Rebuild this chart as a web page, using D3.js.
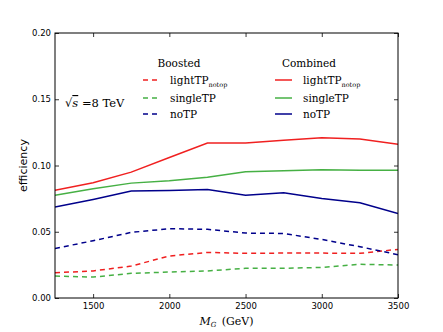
<!DOCTYPE html>
<html>
<head>
<meta charset="utf-8">
<script src="https://cdn.jsdelivr.net/npm/d3@7"></script>
<style>
  body { margin: 0; background: #fff; }
  svg { display: block; }
  .tick text { font-family: "DejaVu Sans", sans-serif; font-size: 8.5px; fill: #000; }
  .serif, .serif tspan { font-family: "DejaVu Serif", "Liberation Serif", serif; fill: #000; }
</style>
</head>
<body>
<div id="chart"></div>
<script>
// masses (GeV)
var masses = [1250, 1500, 1750, 2000, 2250, 2500, 2750, 3000, 3250, 3500];

// Combined (solid)
var combLight  = [0.0814, 0.0870, 0.0950, 0.1060, 0.1170, 0.1170, 0.1190, 0.1210, 0.1200, 0.1160];
var combSingle = [0.0776, 0.0824, 0.0867, 0.0884, 0.0912, 0.0952, 0.0960, 0.0967, 0.0965, 0.0965];
var combNo     = [0.0686, 0.0744, 0.0807, 0.0812, 0.0819, 0.0776, 0.0794, 0.0751, 0.0719, 0.0638];

// Boosted (dashed)
var boostLight  = [0.0191, 0.0204, 0.0241, 0.0317, 0.0344, 0.0337, 0.0339, 0.0339, 0.0337, 0.0367];
var boostSingle = [0.0166, 0.0158, 0.0186, 0.0196, 0.0204, 0.0224, 0.0224, 0.0231, 0.0254, 0.0249];
var boostNo     = [0.0374, 0.0432, 0.0495, 0.0523, 0.0518, 0.0490, 0.0487, 0.0442, 0.0387, 0.0327];

var xTicks = [1500, 2000, 2500, 3000, 3500];
var yTicks = [0, 0.05, 0.10, 0.15, 0.20];

var red = '#f02020', green = '#46b044', blue = '#00008b';

var series = [
  {v: boostLight,  c: red,   dash: true},
  {v: boostSingle, c: green, dash: true},
  {v: boostNo,     c: blue,  dash: true},
  {v: combLight,   c: red,   dash: false},
  {v: combSingle,  c: green, dash: false},
  {v: combNo,      c: blue,  dash: false}
];

var W = 443, H = 332;
var m = {left: 55, right: 45, top: 33, bottom: 34};
var w = W - m.left - m.right, h = H - m.top - m.bottom;

var svg = d3.select('#chart').append('svg')
    .attr('width', W)
    .attr('height', H);

var g = svg.append('g').attr('transform', 'translate(' + m.left + ',' + m.top + ')');

var x = d3.scaleLinear().domain([1250, 3500]).range([0, w]);
var y = d3.scaleLinear().domain([0, 0.20]).range([h, 0]);

var line = d3.line()
    .x(function(d, i) { return x(masses[i]); })
    .y(function(d) { return y(d); });

g.append('clipPath').attr('id', 'clip')
  .append('rect').attr('width', w).attr('height', h);

series.forEach(function(s) {
  g.append('path')
    .attr('clip-path', 'url(#clip)')
    .attr('d', line(s.v))
    .attr('fill', 'none')
    .attr('stroke', s.c)
    .attr('stroke-width', 1.5)
    .attr('stroke-dasharray', s.dash ? '5,4' : null);
});

// axes, ticks inward on all sides
function styleAxis(sel) {
  sel.select('.domain').remove();
  sel.selectAll('.tick line').attr('stroke', '#000').attr('stroke-width', 0.8);
}
g.append('g').attr('transform', 'translate(0,' + h + ')')
  .call(d3.axisBottom(x).tickValues(xTicks).tickSizeInner(-4).tickPadding(5).tickFormat(d3.format('d')))
  .call(styleAxis);
g.append('g')
  .call(d3.axisTop(x).tickValues(xTicks).tickSizeInner(-4).tickFormat(''))
  .call(styleAxis);
g.append('g')
  .call(d3.axisLeft(y).tickValues(yTicks).tickSizeInner(-4).tickPadding(4).tickFormat(d3.format('.2f')))
  .call(styleAxis);
g.append('g').attr('transform', 'translate(' + w + ',0)')
  .call(d3.axisRight(y).tickValues(yTicks).tickSizeInner(-4).tickFormat(''))
  .call(styleAxis);

g.append('rect')
  .attr('width', w).attr('height', h)
  .attr('fill', 'none').attr('stroke', '#000').attr('stroke-width', 1);

// axis labels
svg.append('text')
  .attr('transform', 'translate(24,' + (m.top + h / 2) + ') rotate(-90)')
  .attr('text-anchor', 'middle')
  .attr('dominant-baseline', 'middle')
  .style('font-family', '"DejaVu Sans", sans-serif')
  .style('font-size', '11px')
  .text('efficiency');

var xl = svg.append('text').attr('class', 'serif')
  .attr('x', m.left + w / 2).attr('y', 325)
  .attr('text-anchor', 'middle')
  .style('font-size', '11px');
xl.append('tspan').style('font-style', 'italic').text('M');
xl.append('tspan').attr('dy', 2).style('font-size', '7px').style('font-style', 'italic').text('G');
xl.append('tspan').attr('dy', -2).text('\u2002(GeV)');

// sqrt(s) annotation
var ann = svg.append('text').attr('class', 'serif')
  .attr('x', 65).attr('y', 107)
  .style('font-size', '11.5px');
ann.append('tspan').text('\u221A');
ann.append('tspan').style('font-style', 'italic').style('text-decoration', 'overline').text('s');
ann.append('tspan').text(' =8  TeV');

// legends
var names = [['lightTP', 'notop'], ['singleTP'], ['noTP']];
var rowY = [80, 98, 114];

function legend(title, cx, x0, x1, tx, dash) {
  svg.append('text').attr('class', 'serif')
    .attr('x', cx).attr('y', 67)
    .attr('text-anchor', 'middle')
    .style('font-size', '10.5px')
    .text(title);
  var cols = [red, green, blue];
  names.forEach(function(n, i) {
    svg.append('line')
      .attr('x1', x0).attr('x2', x1)
      .attr('y1', rowY[i]).attr('y2', rowY[i])
      .attr('stroke', cols[i]).attr('stroke-width', 1.5)
      .attr('stroke-dasharray', dash ? '5,4' : null);
    var t = svg.append('text').attr('class', 'serif')
      .attr('x', tx).attr('y', rowY[i] + 3.5)
      .style('font-size', '10.5px');
    t.append('tspan').text(n[0]);
    if (n[1]) t.append('tspan').attr('dy', 3).style('font-size', '6.5px').text(n[1]);
  });
}
legend('Boosted', 179, 143, 158, 170, true);
legend('Combined', 309, 275, 292, 303, false);
</script>
</body>
</html>
